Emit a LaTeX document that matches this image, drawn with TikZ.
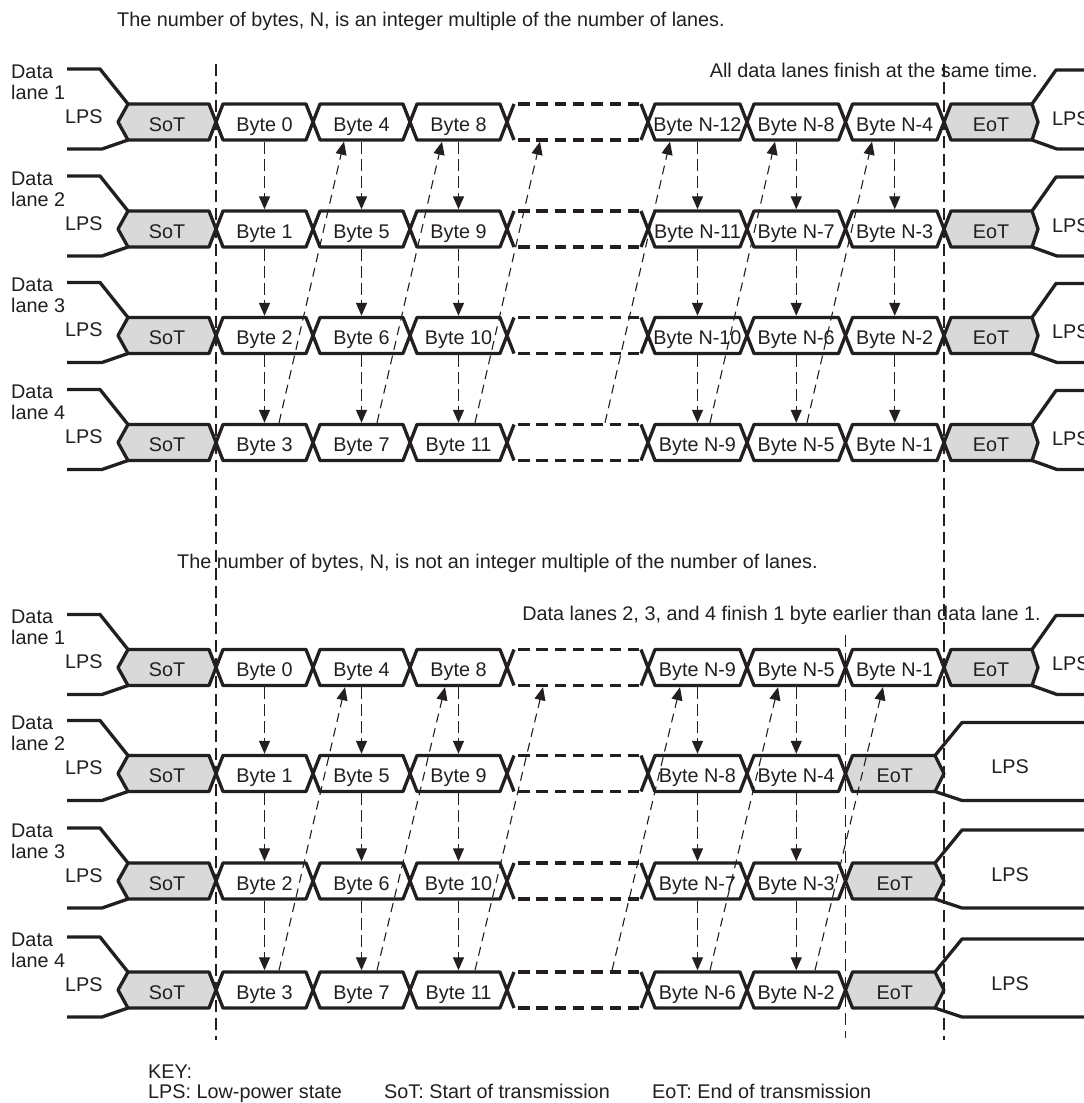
\documentclass[tikz,border=0pt]{standalone}
\usepackage{fontspec}
\setmainfont{Liberation Sans}
\usetikzlibrary{arrows.meta,calc}
\definecolor{ink}{RGB}{35,31,32}
\definecolor{sotfill}{RGB}{217,217,217}

% hexagonal bus cell: #1 fill, #2 name, #3 left x, #4 right x, #5 centre y, #6 left bevel, #7 right bevel, #8 text
\newcommand\hexcell[8]{%
  \filldraw[bus,fill=#1] (#3,#5) -- ({#3+#6},{#5-18}) -- ({#4-#7},{#5-18}) -- (#4,#5)
    -- ({#4-#7},{#5+18}) -- ({#3+#6},{#5+18}) -- cycle;
  \node[celltext] (#2) at ({(#3+#4)/2},#5) {#8};}
% dashed gap cell: #1 name, #2 left x, #3 right x, #4 centre y
\newcommand\gapcell[4]{%
  \draw[bus] ({#2+7},{#4-18}) -- (#2,#4) -- ({#2+7},{#4+18});
  \draw[bus] ({#3-7},{#4-18}) -- (#3,#4) -- ({#3-7},{#4+18});
  \draw[busdash] ({#2+7},{#4-18}) -- ({#3-7},{#4-18});
  \draw[busdash] ({#2+7},{#4+18}) -- ({#3-7},{#4+18});
  \node[celltext] (#1) at ({(#2+#3)/2},#4) {};}

\begin{document}
\begin{tikzpicture}[x=1pt,y=-1pt,
  bus/.style={line width=3.3pt, draw=ink, line join=round},
  busdash/.style={line width=3.3pt, draw=ink, dash pattern=on 11.5pt off 6.8pt, dash phase=14.3pt},
  celltext/.style={inner sep=0pt, minimum height=39pt, text height=18pt, text depth=0pt,
    font=\fontsize{19.8}{23}\selectfont, text=ink},
  lbl/.style={font=\fontsize{19.8}{23}\selectfont, text=ink, inner sep=0pt},
  guide/.style={line width=1.3pt, draw=ink, dash pattern=on 12pt off 6pt},
  varrow/.style={line width=1.3pt, draw=ink, dash pattern=on 12pt off 5pt,
    -{Triangle[length=13pt,width=11pt]}},
  darrow/.style={line width=1.1pt, draw=ink, dash pattern=on 9pt off 6pt,
    -{Triangle[length=13pt,width=11pt]}},
]
\fill[white] (0,0) rectangle (1084,1103);
\useasboundingbox (0,0) rectangle (1084,1103);

% vertical guide lines
\coordinate (g1t) at (216,64);   \coordinate (g1b) at (216,1040);
\coordinate (g2t) at (944,64);   \coordinate (g2b) at (944,1040);
\coordinate (g3t) at (845.5,635); \coordinate (g3b) at (845.5,1038);
\draw[guide] (g1t) -- (g1b);
\draw[guide] (g2t) -- (g2b);
\draw[guide] (g3t) -- (g3b);

% titles
\node[lbl,anchor=base west] (t1) at (117,26) {The number of bytes, N, is an integer multiple of the number of lanes.};
\node[lbl,anchor=base east] (t2) at (1038,77) {All data lanes finish at the same time.};
\node[lbl,anchor=base west] (t3) at (177,568) {The number of bytes, N, is not an integer multiple of the number of lanes.};
\node[lbl,anchor=base east] (t4) at (1041,620) {Data lanes 2, 3, and 4 finish 1 byte earlier than data lane 1.};

% ---------------- upper panel ----------------
\foreach \ln/\cy in {1/122,2/229,3/335.5,4/442.5}{
  \pgfmathtruncatemacro\nA{\ln-1}
  \pgfmathtruncatemacro\nB{\ln+3}
  \pgfmathtruncatemacro\nC{\ln+7}
  \pgfmathtruncatemacro\nD{13-\ln}
  \pgfmathtruncatemacro\nE{9-\ln}
  \pgfmathtruncatemacro\nF{5-\ln}
  \draw[bus] (67,{\cy-53}) -- (100,{\cy-53}) -- (128,{\cy-18});
  \draw[bus] (67,{\cy+27}) -- (102,{\cy+27}) -- (128,{\cy+18});
  \node[lbl,anchor=base west] (u\ln-data) at (11,{\cy-44}) {Data};
  \node[lbl,anchor=base west] (u\ln-lane) at (11,{\cy-23}) {lane \ln};
  \node[lbl,anchor=base west] (u\ln-lps) at (65,{\cy+1}) {LPS};
  \hexcell{sotfill}{u\ln-0}{118}{216}{\cy}{10}{7}{SoT}
  \hexcell{white}{u\ln-1}{216}{313}{\cy}{7}{7}{Byte \nA}
  \hexcell{white}{u\ln-2}{313}{410}{\cy}{7}{7}{Byte \nB}
  \hexcell{white}{u\ln-3}{410}{507}{\cy}{7}{7}{Byte \nC}
  \gapcell{u\ln-g}{507}{648}{\cy}
  \hexcell{white}{u\ln-4}{648}{747}{\cy}{7}{7}{Byte N-\nD}
  \hexcell{white}{u\ln-5}{747}{845.5}{\cy}{7}{7}{Byte N-\nE}
  \hexcell{white}{u\ln-6}{845.5}{944}{\cy}{7}{7}{Byte N-\nF}
  \hexcell{sotfill}{u\ln-e}{944}{1038}{\cy}{7}{6}{EoT}
  \draw[bus] (1032,{\cy-18}) -- (1056,{\cy-52}) -- (1090,{\cy-52});
  \draw[bus] (1032,{\cy+18}) -- (1057,{\cy+27}) -- (1090,{\cy+27});
  \node[lbl,anchor=base west] (u\ln-rlps) at (1052,{\cy+3}) {LPS};
}

% ---------------- lower panel ----------------
\foreach \ln/\cy in {1/667.5,2/773.5,3/881,4/990}{
  \pgfmathtruncatemacro\nA{\ln-1}
  \pgfmathtruncatemacro\nB{\ln+3}
  \pgfmathtruncatemacro\nC{\ln+7}
  \pgfmathtruncatemacro\nD{10-\ln}
  \pgfmathtruncatemacro\nE{6-\ln}
  \draw[bus] (67,{\cy-53}) -- (100,{\cy-53}) -- (128,{\cy-18});
  \draw[bus] (67,{\cy+27}) -- (102,{\cy+27}) -- (128,{\cy+18});
  \node[lbl,anchor=base west] (l\ln-data) at (11,{\cy-44}) {Data};
  \node[lbl,anchor=base west] (l\ln-lane) at (11,{\cy-23}) {lane \ln};
  \node[lbl,anchor=base west] (l\ln-lps) at (65,{\cy+1}) {LPS};
  \hexcell{sotfill}{l\ln-0}{118}{216}{\cy}{10}{7}{SoT}
  \hexcell{white}{l\ln-1}{216}{313}{\cy}{7}{7}{Byte \nA}
  \hexcell{white}{l\ln-2}{313}{410}{\cy}{7}{7}{Byte \nB}
  \hexcell{white}{l\ln-3}{410}{507}{\cy}{7}{7}{Byte \nC}
  \gapcell{l\ln-g}{507}{648}{\cy}
  \hexcell{white}{l\ln-4}{648}{747}{\cy}{7}{7}{Byte N-\nD}
  \hexcell{white}{l\ln-5}{747}{845.5}{\cy}{7}{7}{Byte N-\nE}
  \ifnum\ln=1
    \hexcell{white}{l\ln-6}{845.5}{944}{\cy}{7}{7}{Byte N-1}
    \hexcell{sotfill}{l\ln-e}{944}{1038}{\cy}{7}{6}{EoT}
    \draw[bus] (1032,{\cy-18}) -- (1056,{\cy-52}) -- (1090,{\cy-52});
    \draw[bus] (1032,{\cy+18}) -- (1057,{\cy+27}) -- (1090,{\cy+27});
    \node[lbl,anchor=base west] (l\ln-rlps) at (1052,{\cy+3}) {LPS};
  \else
    \hexcell{sotfill}{l\ln-e}{845.5}{944}{\cy}{7}{9}{EoT}
    \draw[bus] (935,{\cy-18}) -- (962,{\cy-51}) -- (1090,{\cy-51});
    \draw[bus] (935,{\cy+18}) -- (962,{\cy+27}) -- (1090,{\cy+27});
    \node[lbl,anchor=base] (l\ln-rlps) at (1010,{\cy}) {LPS};
  \fi
}

% ---------------- arrows ----------------
\foreach \col in {1,2,3,4,5,6}{
  \foreach \a/\b in {1/2,2/3,3/4}{
    \draw[varrow] (u\a-\col.south) -- (u\b-\col.north);
  }
}
\foreach \col in {1,2,3,4,5}{
  \foreach \a/\b in {1/2,2/3,3/4}{
    \draw[varrow] (l\a-\col.south) -- (l\b-\col.north);
  }
}
\foreach \a/\sa/\b/\eb in {1/14.5/2/-17.5, 2/15.5/3/-16.5, 3/16.5/g/-37.5,
                           g/27.5/4/-27.5, 4/12.5/5/-21.25, 5/10.75/6/-22.75}{
  \draw[darrow] ($(u4-\a.north)+(\sa,0)$) -- ($(u1-\b.south)+(\eb,0)$);
}
\foreach \a/\sa/\b/\eb in {1/14.5/2/-16.5, 2/15.5/3/-13.5, 3/16.5/g/-34.5,
                           g/34.5/4/-17.5, 4/12.5/5/-18.25, 5/18.75/6/-11.75}{
  \draw[darrow] ($(l4-\a.north)+(\sa,0)$) -- ($(l1-\b.south)+(\eb,0)$);
}

% ---------------- key ----------------
\node[lbl,anchor=base west] (k0) at (148,1078) {KEY:};
\node[lbl,anchor=base west] (k1) at (148,1098) {LPS: Low-power state};
\node[lbl,anchor=base west] (k2) at (384,1098) {SoT: Start of transmission};
\node[lbl,anchor=base west] (k3) at (652,1098) {EoT: End of transmission};
\end{tikzpicture}
\end{document}
